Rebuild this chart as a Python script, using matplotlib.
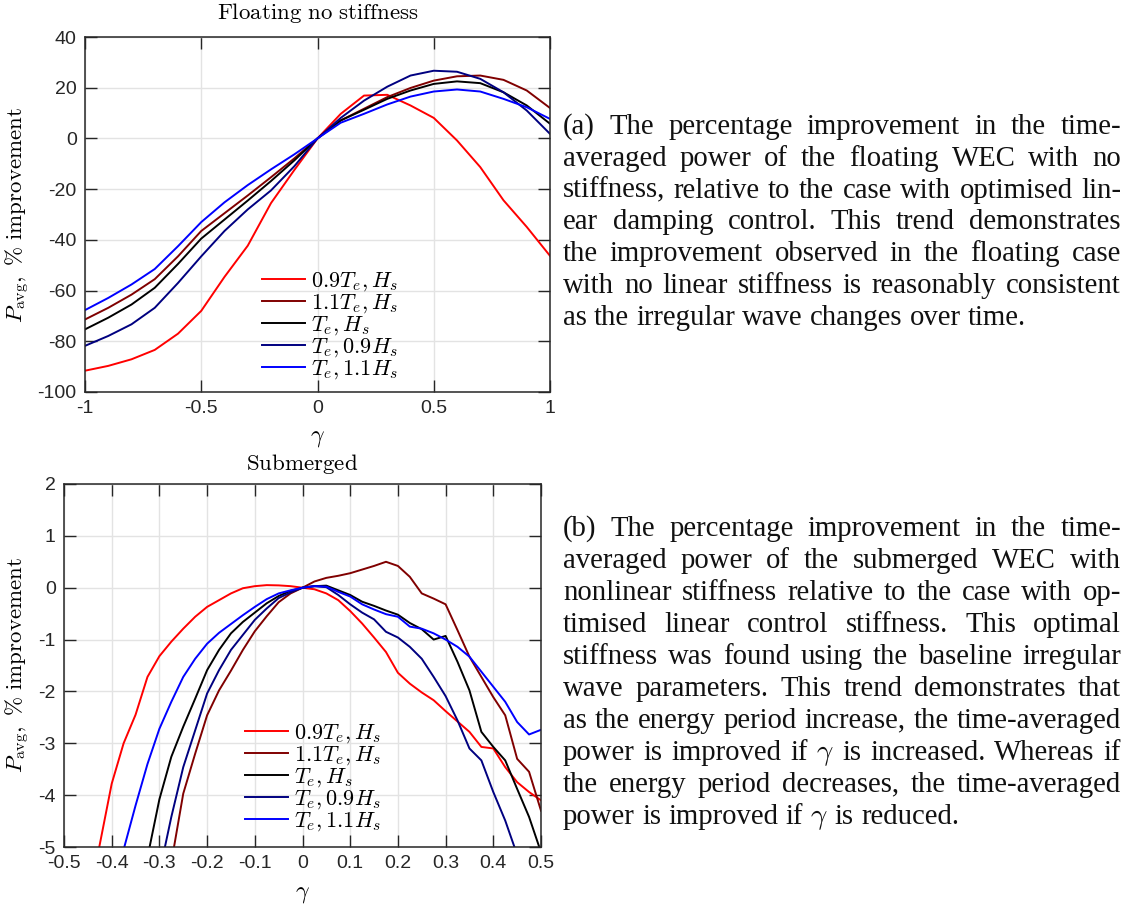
import numpy as np
import matplotlib
matplotlib.use("Agg")
import matplotlib.pyplot as plt

plt.rcParams['mathtext.fontset'] = 'cm'
plt.rcParams['axes.unicode_minus'] = False
plt.rcParams['font.family'] = 'Liberation Sans'

# ---- floating case (gamma from -1 to 1, step 0.1)
g_float = np.linspace(-1, 1, 21)
fl_09Te = [-91.6, -89.7, -87.1, -83.4, -77, -68, -54.6, -42.3, -25.5, -12.5, 0,
           9.7, 16.9, 17.2, 13, 8.1, -0.8, -11.3, -24.4, -34.9, -46.3]
fl_11Te = [-71.4, -66.8, -61.6, -55.5, -46.5, -36.5, -29.5, -22.5, -15.3, -7.9, 0,
           7.1, 11.7, 16.3, 19.9, 22.8, 24.5, 24.8, 23.1, 18.9, 12]
fl_base = [-75.3, -70.7, -65.5, -58.9, -49.5, -39.5, -32, -24.5, -16.8, -8.7, 0,
           7.1, 11.3, 15.6, 18.9, 21.5, 22.5, 21.8, 18.2, 13, 5.8]
fl_09Hs = [-81.8, -77.9, -73.3, -66.8, -57, -46.5, -36.5, -28, -20.5, -11, 0,
           8.1, 14.9, 20.4, 24.8, 26.7, 26.3, 23.5, 18.2, 11, 1.8]
fl_11Hs = [-67.7, -62.9, -57.6, -51.5, -42.5, -33, -25.2, -18.4, -12.2, -6.3, 0,
           6.2, 9.7, 13.4, 16.5, 18.5, 19.3, 18.5, 15.6, 12.3, 7.7]

# ---- submerged case (gamma from -0.45 to 0.5, step 0.025)
g_sub = np.linspace(-0.45, 0.5, 39)
nan = np.nan
sub_09Te = [-6.1, -4.95, -3.78, -3.0, -2.45, -1.72, -1.32, -1.04, -0.79, -0.56,
            -0.37, -0.24, -0.11, -0.01, 0.03, 0.05, 0.045, 0.03, 0,
            -0.03, -0.11, -0.24, -0.45, -0.69, -0.96, -1.24, -1.64, -1.85, -2.02,
            -2.17, -2.38, -2.58, -2.78, -3.07, -3.10, -3.46, -3.75, -3.94, -4.10]
sub_11Te = [nan]*7 + [-5.3, -3.97, -3.2, -2.46, -1.98, -1.6, -1.2, -0.84, -0.55, -0.28, -0.11, 0,
            0.12, 0.19, 0.23, 0.28, 0.35, 0.42, 0.50, 0.42, 0.21, -0.11,
            -0.21, -0.32, -0.82, -1.33, -1.72, -2.11, -2.46, -3.30, -3.55, -4.30]
sub_base = [nan]*5 + [-5.2, -4.08, -3.26, -2.68, -2.14, -1.59, -1.2, -0.88, -0.66, -0.48,
            -0.3, -0.16, -0.06, 0,
            0.03, 0.04, -0.05, -0.14, -0.27, -0.35, -0.44, -0.52, -0.68, -0.8,
            -1.0, -0.93, -1.43, -1.98, -2.78, -3.07, -3.33, -3.88, -4.42, -5.1]
sub_09Hs = [nan]*6 + [-5.5, -4.42, -3.46, -2.75, -2.04, -1.59, -1.2, -0.91, -0.62, -0.4,
            -0.2, -0.09, 0,
            0.03, 0.01, -0.14, -0.32, -0.48, -0.61, -0.85, -0.96, -1.14, -1.37,
            -1.72, -2.09, -2.56, -3.10, -3.33, -3.94, -4.49, -5.15] + [nan]*2
sub_11Hs = [nan]*2 + [-6.2, -5.05, -4.2, -3.4, -2.72, -2.2, -1.72, -1.37, -1.08, -0.87,
            -0.7, -0.53, -0.37, -0.22, -0.11, -0.05, 0,
            0.03, 0.02, -0.08, -0.17, -0.32, -0.42, -0.51, -0.56, -0.75, -0.79,
            -0.88, -1.0, -1.14, -1.33, -1.62, -1.91, -2.2, -2.59, -2.83, -2.74]

labels = [r'$0.9T_e,H_s$', r'$1.1T_e,H_s$', r'$T_e,H_s$', r'$T_e,0.9H_s$', r'$T_e,1.1H_s$']
colors = ['#ff0000', '#800000', '#000000', '#000080', '#0000ff']

cap_a = ["(a) The percentage improvement in the time-",
         "averaged power of the floating WEC with no",
         "stiffness, relative to the case with optimised lin-",
         "ear damping control. This trend demonstrates",
         "the improvement observed in the floating case",
         "with no linear stiffness is reasonably consistent",
         "as the irregular wave changes over time."]
cap_b = ["(b) The percentage improvement in the time-",
         "averaged power of the submerged WEC with",
         "nonlinear stiffness relative to the case with op-",
         "timised linear control stiffness. This optimal",
         "stiffness was found using the baseline irregular",
         "wave parameters. This trend demonstrates that",
         "as the energy period increase, the time-averaged",
         r"power is improved if $\gamma$ is increased. Whereas if",
         "the energy period decreases, the time-averaged",
         r"power is improved if $\gamma$ is reduced."]

W, H = 1133, 909
fig = plt.figure(figsize=(W/100, H/100), dpi=100)

def style(ax):
    ax.grid(True, color='#e3e3e3', lw=1)
    ax.set_axisbelow(True)
    for s in ax.spines.values():
        s.set_color('#262626')
        s.set_linewidth(1.1)
    ax.tick_params(direction='in', length=8.5, width=1, top=True, right=True,
                   labelsize=14, colors='#262626', pad=6)

leg_kw = dict(frameon=False, fontsize=16, handlelength=1.95, handletextpad=0.25,
              labelspacing=-0.03, borderpad=0, borderaxespad=0)

ax1 = fig.add_axes([85/W, 1-392/H, 465/W, 355/H])
for y, c, l in zip([fl_09Te, fl_11Te, fl_base, fl_09Hs, fl_11Hs], colors, labels):
    ax1.plot(g_float, y, color=c, lw=1.4, label=l)
ax1.set_xlim(-1, 1)
ax1.set_ylim(-100, 40)
ax1.set_xticks([-1, -0.5, 0, 0.5, 1])
ax1.set_xticklabels(['-1', '-0.5', '0', '0.5', '1'])
ax1.set_yticks(np.arange(-100, 41, 20))
style(ax1)
ax1.legend(loc='upper left', bbox_to_anchor=(262/W, 1-270/H), bbox_transform=fig.transFigure, **leg_kw)

ax2 = fig.add_axes([64/W, 1-847/H, 477/W, 363/H])
for y, c, l in zip([sub_09Te, sub_11Te, sub_base, sub_09Hs, sub_11Hs], colors, labels):
    ax2.plot(g_sub, y, color=c, lw=1.4, label=l)
ax2.set_xlim(-0.5, 0.5)
ax2.set_ylim(-5, 2)
xt = np.round(np.arange(-0.5, 0.51, 0.1), 1)
ax2.set_xticks(xt)
ax2.set_xticklabels(['0' if v == 0 else '%g' % v for v in xt])
ax2.set_yticks(np.arange(-5, 3, 1))
style(ax2)
ax2.legend(loc='upper left', bbox_to_anchor=(245/W, 1-722/H), bbox_transform=fig.transFigure, **leg_kw)

# titles and axis labels
def ftext(x, y, s, **kw):
    return fig.text(x/W, 1-y/H, s, ha='center', va='center', **kw)

ylab = r'$P_{\mathrm{avg}},\ \%\ \mathrm{improvement}$'
ftext(318, 13, r'$\mathrm{Floating\ no\ stiffness}$', fontsize=16.5)
ftext(317, 438, r'$\gamma$', fontsize=17)
ftext(18, 215, ylab, fontsize=16.5, rotation=90)
ftext(302, 464, r'$\mathrm{Submerged}$', fontsize=16.5)
ftext(302, 894, r'$\gamma$', fontsize=17)
ftext(18, 665, ylab, fontsize=16.5, rotation=90)

# justified captions
X0, X1 = 563, 1121
r = fig.canvas.get_renderer()

def natural_width(line, size):
    t = fig.text(0, 0, line, fontsize=size, family='Liberation Serif')
    w = t.get_window_extent(r).width
    t.remove()
    return w

base = 19
fit = min((X1 - X0)/natural_width(l, base) for l in cap_a[:-1] + cap_b[:-1])
cap_size = base*fit*0.995

def paragraph(lines, y0, step, size):
    for k, line in enumerate(lines):
        words = line.split(' ')
        yy = 1 - (y0 + k*step)/H
        objs = [fig.text(0, yy, w, fontsize=size, family='Liberation Serif', va='baseline',
                         color='#111111') for w in words]
        widths = [o.get_window_extent(r).width for o in objs]
        if k == len(lines) - 1:
            gap = 0.25*size*100/72
        else:
            gap = (X1 - X0 - sum(widths))/(len(words) - 1)
        x = X0
        for o, w in zip(objs, widths):
            o.set_x(x/W)
            x += w + gap

paragraph(cap_a, 134, 31.8, cap_size)
paragraph(cap_b, 536, 31.95, cap_size)

fig.savefig('out.png', dpi=100)
